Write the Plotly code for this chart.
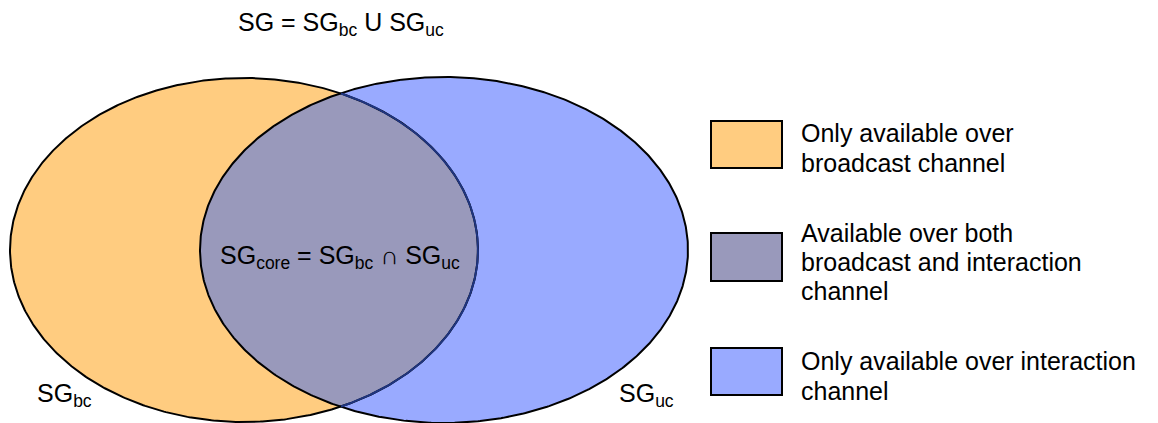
import numpy as np
import plotly.graph_objects as go

# conjuntos del diagrama de Venn (centro y radios en pixeles del lienzo)
set_names = ["SG<sub>bc</sub>", "SG<sub>uc</sub>"]
set_cx = [244, 444]
set_cy = [250, 250]
set_rx = [234, 244]
set_ry = [172, 173]

# leyenda: una lista de lineas por entrada
legend_lines = [
    ["Only available over", "broadcast channel"],
    ["Available over both", "broadcast and interaction", "channel"],
    ["Only available over interaction", "channel"],
]
legend_colors = ["#FFCC80", "#9999BB", "#99AAFF"]
legend_box_y = [[121, 168], [233, 281], [348, 395]]
legend_line_y = [[133, 163], [233, 262, 291], [361, 391]]

title_text = "SG = SG<sub>bc</sub> U SG<sub>uc</sub>"
core_text = "SG<sub>core</sub> = SG<sub>bc</sub> ∩ SG<sub>uc</sub>"

FONT = "Liberation Sans, Arial, sans-serif"
FS = 25


def ellipse(i, t):
    return set_cx[i] + set_rx[i] * np.cos(t), set_cy[i] + set_ry[i] * np.sin(t)


def inside(i, x, y):
    return ((x - set_cx[i]) / set_rx[i]) ** 2 + ((y - set_cy[i]) / set_ry[i]) ** 2 <= 1


t = np.linspace(-np.pi, np.pi, 721)
fig = go.Figure()

# rellenos
for i, col in [(0, legend_colors[0]), (1, legend_colors[2])]:
    x, y = ellipse(i, t)
    fig.add_trace(go.Scatter(x=x, y=y, mode="lines", fill="toself", fillcolor=col,
                             line=dict(width=0), hoverinfo="skip"))

# interseccion
t0 = np.linspace(-np.pi / 2, np.pi / 2, 721)
xa, ya = ellipse(0, t0)
m = inside(1, xa, ya)
t1 = np.linspace(np.pi / 2, 3 * np.pi / 2, 721)
xb, yb = ellipse(1, t1)
n = inside(0, xb, yb)
xi = np.concatenate([xa[m], xb[n]])
yi = np.concatenate([ya[m], yb[n]])
fig.add_trace(go.Scatter(x=xi, y=yi, mode="lines", fill="toself", fillcolor=legend_colors[1],
                         line=dict(width=0), hoverinfo="skip"))

# contornos
x, y = ellipse(0, t)
fig.add_trace(go.Scatter(x=x, y=y, mode="lines", line=dict(color="black", width=2), hoverinfo="skip"))
x, y = ellipse(1, t)
fig.add_trace(go.Scatter(x=x, y=y, mode="lines", line=dict(color="black", width=2), hoverinfo="skip"))
fig.add_trace(go.Scatter(x=xa[m], y=ya[m], mode="lines", line=dict(color="#1F3580", width=2),
                         hoverinfo="skip"))

# cajas de la leyenda
for col, (y0, y1), lines, ys in zip(legend_colors, legend_box_y, legend_lines, legend_line_y):
    fig.add_shape(type="rect", xref="x", yref="y", x0=711, x1=782, y0=y0, y1=y1,
                  fillcolor=col, line=dict(color="black", width=2))
    for lab, ty in zip(lines, ys):
        fig.add_annotation(x=799, y=ty, text=lab, showarrow=False, xanchor="left",
                           yanchor="middle", align="left", font=dict(size=FS, color="black"))

fig.add_annotation(x=341, y=24, text=title_text, showarrow=False, font=dict(size=FS, color="black"))
fig.add_annotation(x=340, y=257, text=core_text, showarrow=False, font=dict(size=FS, color="black"))
fig.add_annotation(x=64, y=395, text=set_names[0], showarrow=False, font=dict(size=FS, color="black"))
fig.add_annotation(x=646, y=395, text=set_names[1], showarrow=False, font=dict(size=FS, color="black"))

fig.update_xaxes(range=[0, 1158], visible=False, fixedrange=True)
fig.update_yaxes(range=[423, 0], visible=False, fixedrange=True)
fig.update_layout(width=1158, height=423, margin=dict(l=0, r=0, t=0, b=0),
                  showlegend=False, plot_bgcolor="white", paper_bgcolor="white",
                  font=dict(family=FONT, size=FS, color="black"))
fig.write_html("out.html", config={"displayModeBar": False},
               post_script="document.body.style.margin='0';")
